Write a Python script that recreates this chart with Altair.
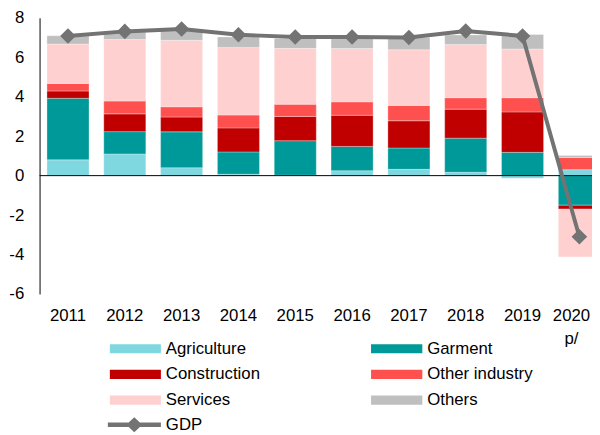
import altair as alt
import pandas as pd

years = ["2011", "2012", "2013", "2014", "2015", "2016", "2017", "2018", "2019", "2020"]
sectors = ["Agriculture", "Garment", "Construction", "Other industry", "Services", "Others"]
colors = ["#7fd7e0", "#009999", "#c00000", "#ff5050", "#ffd0d0", "#bfbfbf"]

agriculture = [0.80, 1.10, 0.40, 0.07, 0.02, 0.25, 0.32, 0.17, -0.13, 0.30]
garment = [3.12, 1.13, 1.82, 1.13, 1.75, 1.23, 1.08, 1.73, 1.18, -1.50]
construction = [0.37, 0.90, 0.75, 1.22, 1.23, 1.58, 1.38, 1.47, 2.05, -0.20]
other_industry = [0.38, 0.65, 0.52, 0.65, 0.62, 0.68, 0.78, 0.58, 0.72, 0.62]
services = [2.00, 3.12, 3.37, 3.43, 2.83, 2.70, 2.82, 2.70, 2.47, -2.42]
others = [0.42, 0.38, 0.48, 0.53, 0.50, 0.50, 0.62, 0.48, 0.73, 0.10]
gdp = [7.08, 7.31, 7.43, 7.14, 7.03, 7.03, 7.00, 7.33, 7.08, -3.10]
y_ticks = [-6, -4, -2, 0, 2, 4, 6, 8]

series = [agriculture, garment, construction, other_industry, services, others]
rows = []
for i, (name, vals) in enumerate(zip(sectors, series)):
    for y, v in zip(years, vals):
        rows.append({"year": y, "sector": name, "value": v, "idx": i})
bars_df = pd.DataFrame(rows)
gdp_df = pd.DataFrame({"year": years, "gdp": gdp, "series": ["GDP"] * len(years)})

FONT = "Liberation Sans"
GRAY = "#737373"

x_scale = alt.Scale(paddingInner=0.26, paddingOuter=0.13)
x_axis = alt.Axis(
    orient="bottom", domain=False, ticks=False, labelAngle=0, labelOverlap=False,
    labelFont=FONT, labelFontSize=17, labelColor="#000000",
    labelPadding=14, labelLineHeight=23,
    labelOffset=alt.condition("datum.value == '2020'", alt.value(-8), alt.value(0)),
    labelExpr="datum.value == '2020' ? ['2020', 'p/'] : datum.value",
)
y_scale = alt.Scale(domain=[-6, 8], nice=False, zero=False)
y_axis = alt.Axis(
    values=y_ticks, grid=False, ticks=False,
    domain=True, domainColor="#000000", domainWidth=1, labelOverlap=False,
    labelFont=FONT, labelFontSize=17, labelColor="#000000", labelPadding=16,
    labelExpr="datum.value < 0 ? '-' + abs(datum.value) : '' + datum.value",
)


def xe():
    return alt.X("year:N", title=None, sort=years, scale=x_scale, axis=x_axis)


def ye(field):
    return alt.Y(field, title=None, scale=y_scale, axis=y_axis)


bar_symbol = "M-1,-0.18L1,-0.18L1,0.18L-1,0.18Z"
gdp_symbol = "M-1,-0.085L1,-0.085L1,0.085L-1,0.085Z M-0.3,0L0,-0.28L0.3,0L0,0.28Z"

bars = alt.Chart(bars_df).mark_bar(stroke="white", strokeWidth=0.5, strokeOpacity=0.6).encode(
    x=xe(),
    y=alt.Y("value:Q", title=None, scale=y_scale, axis=y_axis, stack="zero"),
    color=alt.Color(
        "sector:N",
        scale=alt.Scale(domain=sectors, range=colors),
        legend=alt.Legend(
            orient="none", legendX=71, legendY=325.5, title=None, columns=2,
            direction="horizontal",
            symbolType=bar_symbol, symbolSize=2704, symbolStrokeWidth=0,
            symbolOpacity=1, labelFont=FONT, labelFontSize=17, labelColor="#000000",
            labelOffset=5, clipHeight=20, rowPadding=6, columnPadding=112,
            padding=0,
        ),
    ),
    order=alt.Order("idx:Q", sort="ascending"),
)

zero = alt.Chart(pd.DataFrame({"v": [0]})).mark_rule(color="#000000", strokeWidth=1).encode(
    y=ye("v:Q")
)

line = alt.Chart(gdp_df).mark_line(color=GRAY, strokeWidth=4).encode(
    x=xe(),
    y=ye("gdp:Q"),
)

pts = alt.Chart(gdp_df).mark_point(shape="diamond", filled=True, size=250, opacity=1).encode(
    x=xe(),
    y=ye("gdp:Q"),
    fill=alt.Fill(
        "series:N",
        scale=alt.Scale(domain=["GDP"], range=[GRAY]),
        legend=alt.Legend(
            orient="none", legendX=69, legendY=402.5, title=None,
            symbolType=gdp_symbol, symbolSize=2916, symbolStrokeWidth=0,
            symbolOpacity=1, labelFont=FONT, labelFontSize=17, labelColor="#000000",
            labelOffset=5, clipHeight=20, padding=0,
        ),
    ),
)

chart = alt.layer(bars, zero, line, pts).resolve_scale(y="shared").properties(
    width=576,
    height=280,
    padding={"left": 32, "top": 7, "right": -16, "bottom": 140},
    autosize=alt.AutoSizeParams(type="none"),
).configure_view(stroke=None).configure_axisY(labelOverlap=False)

chart.save("out.html", embed_options={"renderer": "svg", "actions": False})
